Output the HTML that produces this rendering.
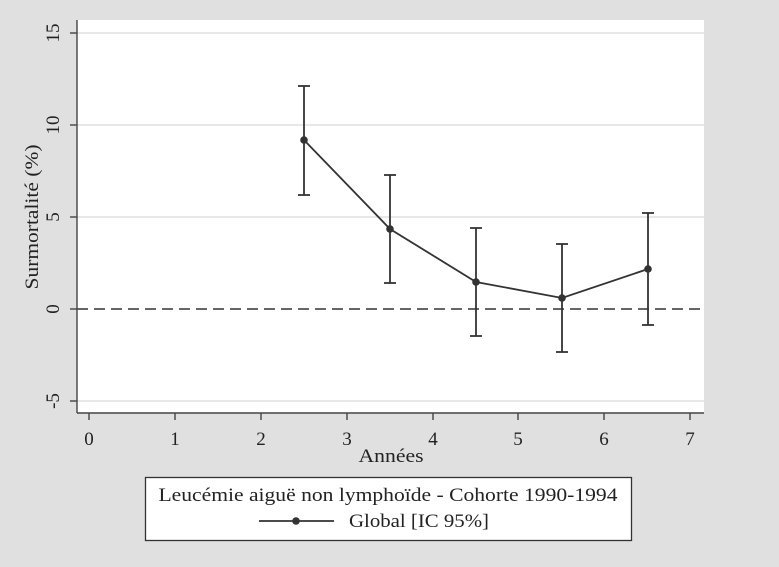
<!DOCTYPE html>
<html><head><meta charset="utf-8"><style>
html,body{margin:0;padding:0;background:#e0e0e0;}
svg{display:block;font-family:"Liberation Serif","DejaVu Serif",serif;}
</style></head><body>
<svg width="779" height="567" viewBox="0 0 779 567" xmlns="http://www.w3.org/2000/svg">
<rect width="779" height="567" fill="#e0e0e0"/>
<rect x="77" y="20" width="627" height="393" fill="#ffffff"/>
<g stroke="#e0e0e0" stroke-width="1.5">
<line x1="77" x2="704" y1="33" y2="33"/>
<line x1="77" x2="704" y1="125" y2="125"/>
<line x1="77" x2="704" y1="217" y2="217"/>
<line x1="77" x2="704" y1="401" y2="401"/>
</g>
<line x1="77" x2="704" y1="309" y2="309" stroke="#333" stroke-width="1.6" stroke-dasharray="11,6"/>
<g stroke="#444" stroke-width="1.4" fill="none">
<line x1="77" y1="20" x2="77" y2="413"/>
<line x1="77" y1="413" x2="704" y2="413"/>
<line x1="70" x2="77" y1="33" y2="33"/><line x1="70" x2="77" y1="125" y2="125"/>
<line x1="70" x2="77" y1="217" y2="217"/><line x1="70" x2="77" y1="309" y2="309"/>
<line x1="70" x2="77" y1="401" y2="401"/>
<line x1="89" x2="89" y1="413" y2="420"/><line x1="175" x2="175" y1="413" y2="420"/>
<line x1="261" x2="261" y1="413" y2="420"/><line x1="347" x2="347" y1="413" y2="420"/>
<line x1="433" x2="433" y1="413" y2="420"/><line x1="518" x2="518" y1="413" y2="420"/>
<line x1="604" x2="604" y1="413" y2="420"/><line x1="690" x2="690" y1="413" y2="420"/>
</g>
<g font-size="19" fill="#222" text-anchor="middle">
<text x="89" y="445">0</text><text x="175" y="445">1</text><text x="261" y="445">2</text>
<text x="347" y="445">3</text><text x="433" y="445">4</text><text x="518" y="445">5</text>
<text x="604" y="445">6</text><text x="690" y="445">7</text>
<text x="391" y="462" textLength="65" lengthAdjust="spacingAndGlyphs">Années</text>
<text transform="translate(59,33) rotate(-90)">15</text>
<text transform="translate(59,125) rotate(-90)">10</text>
<text transform="translate(59,217) rotate(-90)">5</text>
<text transform="translate(59,309) rotate(-90)">0</text>
<text transform="translate(59,401) rotate(-90)">-5</text>
<text transform="translate(38,217) rotate(-90)" textLength="145" lengthAdjust="spacingAndGlyphs">Surmortalité (%)</text>
</g>
<g stroke="#333" stroke-width="1.8" fill="none">
<polyline points="304,140 390,229 476,282 562,298 648,269"/>
<line x1="304" x2="304" y1="86" y2="195"/><line x1="298" x2="310" y1="86" y2="86"/><line x1="298" x2="310" y1="195" y2="195"/>
<line x1="390" x2="390" y1="175" y2="283"/><line x1="384" x2="396" y1="175" y2="175"/><line x1="384" x2="396" y1="283" y2="283"/>
<line x1="476" x2="476" y1="228" y2="336"/><line x1="470" x2="482" y1="228" y2="228"/><line x1="470" x2="482" y1="336" y2="336"/>
<line x1="562" x2="562" y1="244" y2="352"/><line x1="556" x2="568" y1="244" y2="244"/><line x1="556" x2="568" y1="352" y2="352"/>
<line x1="648" x2="648" y1="213" y2="325"/><line x1="642" x2="654" y1="213" y2="213"/><line x1="642" x2="654" y1="325" y2="325"/>
</g>
<g fill="#333">
<circle cx="304" cy="140" r="3.8"/><circle cx="390" cy="229" r="3.8"/><circle cx="476" cy="282" r="3.8"/>
<circle cx="562" cy="298" r="3.8"/><circle cx="648" cy="269" r="3.8"/>
</g>
<rect x="145.5" y="477.5" width="486" height="63" fill="#fff" stroke="#333" stroke-width="1.3"/>
<text x="388" y="501" font-size="19" fill="#222" text-anchor="middle" textLength="459" lengthAdjust="spacingAndGlyphs">Leucémie aiguë non lymphoïde - Cohorte 1990-1994</text>
<line x1="259" x2="334" y1="521" y2="521" stroke="#333" stroke-width="1.8"/>
<circle cx="296" cy="521" r="3.8" fill="#333"/>
<text x="349" y="527" font-size="19" fill="#222" textLength="140" lengthAdjust="spacingAndGlyphs">Global [IC 95%]</text>
</svg>
</body></html>
